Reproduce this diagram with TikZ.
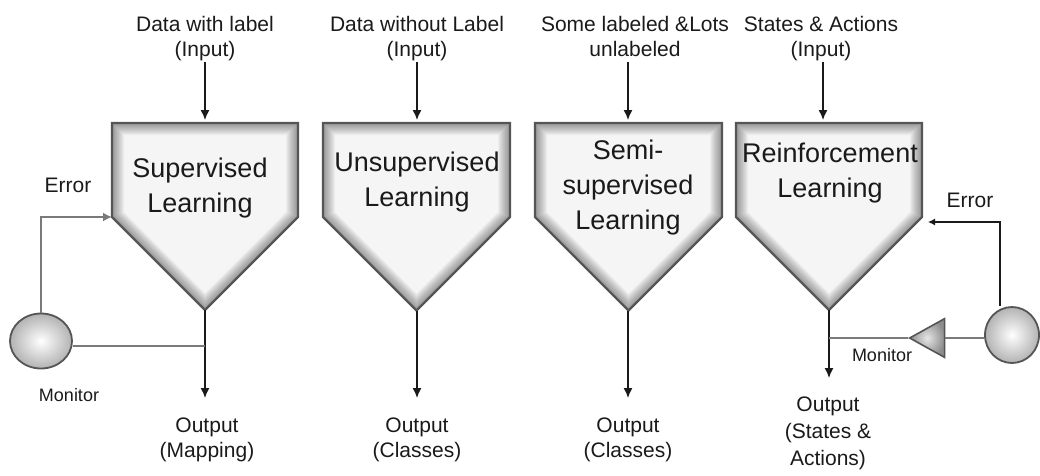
\documentclass[tikz,border=0pt]{standalone}
\usepackage{fontspec}
\setmainfont{Liberation Sans}
\usetikzlibrary{arrows.meta,shapes.geometric,calc}

\definecolor{ink}{HTML}{1A1A1A}
\definecolor{wire}{HTML}{7A7A7A}
\definecolor{rim}{HTML}{555555}

\tikzset{
  lbl/.style={font=\fontsize{21}{25}\selectfont, text=ink, align=center, inner sep=0pt, anchor=base},
  boxtxt/.style={font=\fontsize{27}{35}\selectfont, text=ink, align=center, inner sep=0pt, anchor=base},
  small/.style={font=\fontsize{18}{22}\selectfont, text=ink, inner sep=0pt, anchor=base},
  flow/.style={ink, line width=1.4pt, -{Latex[length=10pt,width=9pt]}},
  fb/.style={wire, line width=1.8pt},
  fbarrow/.style={wire, line width=1.8pt, -{Latex[length=9pt,width=9pt]}},
  sensor/.style={ellipse, draw=rim, line width=1.8pt, inner sep=0pt,
    inner color=white, outer color=black!30},
}

% funnel-shaped process block: #1 name, #2 left x, #3 right x
\newcommand\funnelblock[3]{%
  \pgfmathsetmacro\fbmid{(#2+#3)/2}%
  \pgfmathsetmacro\fbapex{217+(#3-#2)/2}%
  \coordinate (#1-tl) at (#2,123);
  \coordinate (#1-tr) at (#3,123);
  \coordinate (#1-l) at (#2,217);
  \coordinate (#1-r) at (#3,217);
  \coordinate (#1-apex) at (\fbmid,\fbapex);
  \begin{scope}
    \clip (#1-tl) -- (#1-tr) -- (#1-r) -- (#1-apex) -- (#1-l) -- cycle;
    \fill[black!4] (#1-tl) -- (#1-tr) -- (#1-r) -- (#1-apex) -- (#1-l) -- cycle;
    % soft inner shadow along the rim
    \foreach \w in {24,22,...,2}
      \draw[line width=\w pt, black, opacity=0.035, line join=miter]
        (#1-tl) -- (#1-tr) -- (#1-r) -- (#1-apex) -- (#1-l) -- cycle;
  \end{scope}
  \draw[rim, line width=2.4pt, line join=miter]
    (#1-tl) -- (#1-tr) -- (#1-r) -- (#1-apex) -- (#1-l) -- cycle;
}

\begin{document}
\begin{tikzpicture}[x=1pt,y=-1pt]
\useasboundingbox (0,0) rectangle (1040,475);

% the four learning blocks
\funnelblock{sup}{112}{298}
\funnelblock{uns}{323}{510}
\funnelblock{semi}{535}{722}
\funnelblock{rl}{736}{922}

% block titles (anchored at the baseline of their last line)
\node[boxtxt] (supT) at (200,212) {Supervised\\Learning};
\node[boxtxt] (unsT) at (417,206) {Unsupervised\\Learning};
\node[boxtxt] (semiT) at (628,229) {Semi-\\supervised\\Learning};
\node[boxtxt] (rlT) at (830,197) {Reinforcement\\Learning};

% inputs
\node[lbl] (supIn) at (205,56) {Data with label\\(Input)};
\node[lbl] (unsIn) at (417,56) {Data without Label\\(Input)};
\node[lbl] (semiIn) at (635,56) {Some labeled \&Lots\\unlabeled};
\node[lbl] (rlIn) at (821,56) {States \& Actions\\(Input)};

\coordinate (supInS) at (205,62);  \coordinate (supTop) at (205,120);
\coordinate (unsInS) at (417,62);  \coordinate (unsTop) at (417,120);
\coordinate (semiInS) at (628,62); \coordinate (semiTop) at (628,120);
\coordinate (rlInS) at (823,62);   \coordinate (rlTop) at (823,120);
\draw[flow] (supInS) -- (supTop);
\draw[flow] (unsInS) -- (unsTop);
\draw[flow] (semiInS) -- (semiTop);
\draw[flow] (rlInS) -- (rlTop);

% outputs
\node[lbl] (supOut) at (207,457) {Output\\(Mapping)};
\node[lbl] (unsOut) at (417,457) {Output\\(Classes)};
\node[lbl] (semiOut) at (628,457) {Output\\(Classes)};
\node[lbl, font=\fontsize{21}{27}\selectfont] (rlOut) at (828,465) {Output\\(States \&\\Actions)};

\coordinate (supEnd) at (205,398);
\coordinate (unsEnd) at (417,398);
\coordinate (semiEnd) at (628,398);
\coordinate (rlEnd) at (829,378);
\draw[flow] (sup-apex) -- (supEnd);
\draw[flow] (uns-apex -| unsEnd) -- (unsEnd);
\draw[flow] (semi-apex -| semiEnd) -- (semiEnd);
\draw[flow] (rl-apex -| rlEnd) -- (rlEnd);

% supervised feedback loop
\node[sensor, minimum width=62pt, minimum height=55pt] (monL) at (41,341) {};
\node[small] (monLT) at (69,401) {Monitor};
\node[lbl] (errL) at (68,192) {Error};
\coordinate (supTap) at (205,346);
\draw[fb] (monL.east |- supTap) -- (supTap);
\draw[fbarrow] (monL.north) -- (monL.north |- sup-l) -- (sup-l);

% reinforcement feedback loop
\node[sensor, minimum width=54pt, minimum height=56pt] (monR) at (1012,335) {};
\node[isosceles triangle, shape border rotate=180, isosceles triangle apex angle=58,
      draw=rim, line width=1.6pt, inner sep=0pt, minimum height=35pt,
      inner color=black!10, outer color=black!45, anchor=apex] (amp) at (908,338) {};
\node[small] (monRT) at (882,361) {Monitor};
\node[lbl] (errR) at (970,207) {Error};
\coordinate (rlTap) at (829,338);
\coordinate (rlErrIn) at (928,222);
\coordinate (rlErrUp) at (1000,222);
\draw[fb] (monR.west |- amp.east) -- (amp.east);
\draw[fb] (amp.apex) -- (rlTap);
\draw[ink, line width=1.2pt, -{Latex[length=7pt,width=7pt]}]
  (monR.north -| rlErrUp) -- (rlErrUp) -- (rlErrIn);
\end{tikzpicture}
\end{document}
